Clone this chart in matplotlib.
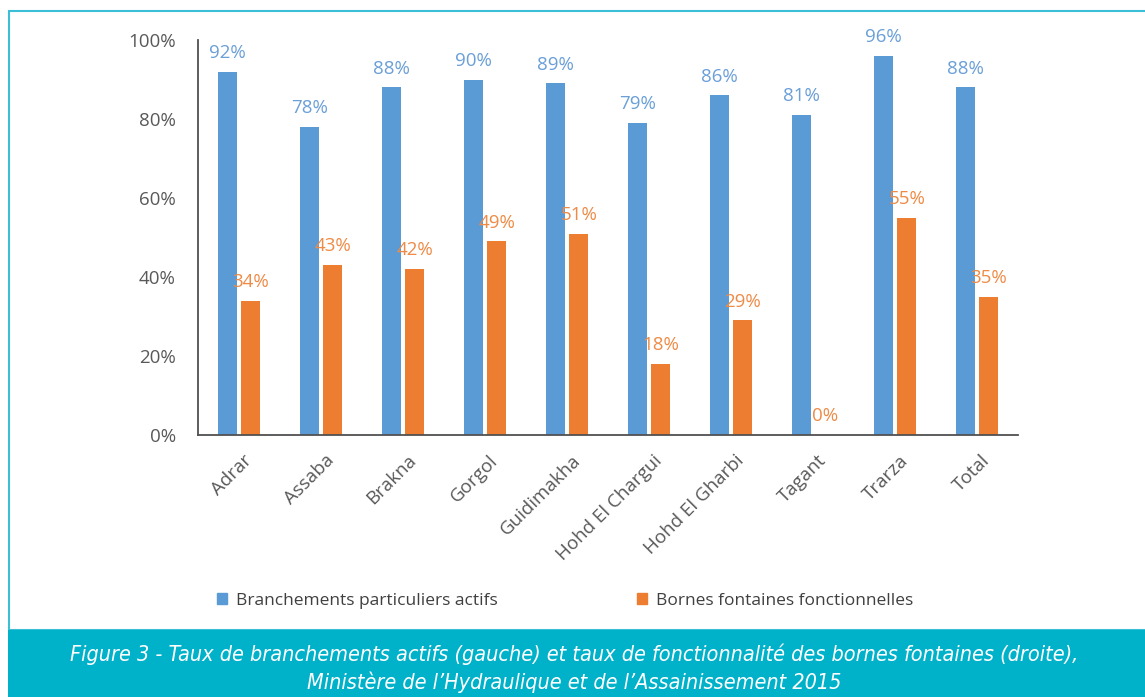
import matplotlib.pyplot as plt
import numpy as np
from matplotlib.patches import Rectangle, Patch

# données
regions = ['Adrar', 'Assaba', 'Brakna', 'Gorgol', 'Guidimakha',
           'Hohd El Chargui', 'Hohd El Gharbi', 'Tagant', 'Trarza', 'Total']
branchements = [92, 78, 88, 90, 89, 79, 86, 81, 96, 88]
bornes = [34, 43, 42, 49, 51, 18, 29, 0, 55, 35]

label_branchements = 'Branchements particuliers actifs'
label_bornes = 'Bornes fontaines fonctionnelles'
caption = ("Figure 3 - Taux de branchements actifs (gauche) et taux de fonctionnalité des bornes fontaines (droite),\n"
           "Ministère de l\u2019Hydraulique et de l\u2019Assainissement 2015")

BLUE = '#5B9BD5'
ORANGE = '#ED7D31'
GREY = '#595959'
TEAL = '#00B1CA'

plt.rcParams['font.family'] = ['Open Sans', 'DejaVu Sans']

W, H = 1145, 697
fig = plt.figure(figsize=(W / 100, H / 100), dpi=100)

# cadre et bandeau de légende
fig.add_artist(Rectangle((9 / W, 1 - 630 / H), 1.2, (630 - 11) / H, transform=fig.transFigure,
                         fill=False, edgecolor='#3CBFD6', linewidth=1.5))
fig.add_artist(Rectangle((8 / W, 0), 1, 1 - 630 / H, transform=fig.transFigure,
                         facecolor=TEAL, edgecolor='none'))

ax = fig.add_axes([198 / W, 1 - 435 / H, (1018 - 198) / W, (435 - 40) / H])

x = np.arange(len(regions))
w = 0.23
b1 = ax.bar(x - 0.145, branchements, w, color=BLUE)
b2 = ax.bar(x + 0.145, bornes, w, color=ORANGE)

for rect, v in zip(b1, branchements):
    ax.annotate(f'{v}%', (rect.get_x() + rect.get_width() / 2, v), xytext=(0, 7),
                textcoords='offset points', ha='center', va='bottom',
                color='#6A9FD8', fontsize=13.5)
for rect, v in zip(b2, bornes):
    ax.annotate(f'{v}%', (rect.get_x() + rect.get_width() / 2, v), xytext=(0, 7),
                textcoords='offset points', ha='center', va='bottom',
                color='#EE8B46', fontsize=13.5)

ax.set_xlim(-0.5, len(regions) - 0.5)
ax.set_ylim(0, 100)
ax.set_yticks(range(0, 101, 20))
ax.set_yticklabels([f'{t}%' for t in range(0, 101, 20)])
ax.set_xticks(x + 0.05)
ax.set_xticklabels(regions, rotation=45, ha='right', rotation_mode='anchor')
ax.tick_params(axis='both', length=0, labelsize=13.5, labelcolor=GREY)
ax.tick_params(axis='y', pad=16)
ax.tick_params(axis='x', pad=12)
for s in ['top', 'right']:
    ax.spines[s].set_visible(False)
for s in ['left', 'bottom']:
    ax.spines[s].set_color('#505050')
    ax.spines[s].set_linewidth(1.3)

handles = [Patch(color=BLUE, label=label_branchements),
           Patch(color=ORANGE, label=label_bornes)]
fig.legend(handles=handles, loc='center', bbox_to_anchor=(565 / W, 1 - 601 / H), ncol=2,
           frameon=False, fontsize=12.5, handlelength=0.6, handleheight=0.6,
           handletextpad=0.5, columnspacing=8.0, labelcolor='#404040')

fig.text(574 / W, 1 - 668 / H, caption, ha='center', va='center', color='white',
         style='italic', fontsize=15.5, linespacing=1.35,
         family=['DejaVu Sans'], fontstretch='condensed')

fig.savefig('out.png', dpi=100)
